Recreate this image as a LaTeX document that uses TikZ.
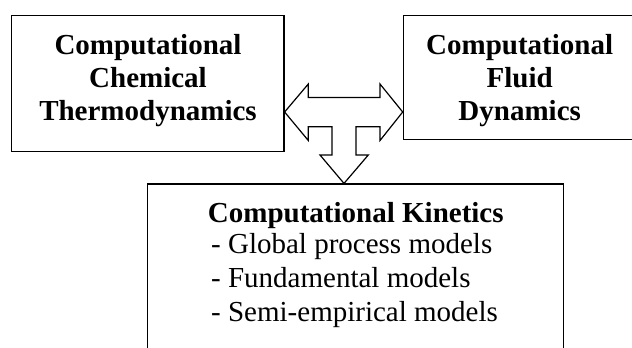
\documentclass[tikz,border=0pt]{standalone}
\usepackage{fontspec}
\setmainfont{Liberation Serif}
\begin{document}
\begin{tikzpicture}[x=1pt,y=-1pt,
  box/.style={draw,line width=1.2pt,inner sep=0pt,rectangle},
  ttl/.style={font=\fontsize{29}{33.2}\selectfont\bfseries,align=center,inner sep=0pt,anchor=base},
  lst/.style={font=\fontsize{29}{34.2}\selectfont,align=left,inner sep=0pt,anchor=base west},
  bigarrow/.style={draw,line width=1.2pt,fill=white,line join=miter}]
\useasboundingbox (0,0) rectangle (632,348);
% boxes
\node[box,minimum width=272.3pt,minimum height=135.8pt] (ct) at (147.85,83.6) {};
\node[box,minimum width=232.7pt,minimum height=123.8pt] (cfd) at (519.65,77.6) {};
\node[box,minimum width=416pt,minimum height=190pt] (ck) at (355.3,279) {};
% texts (base anchor = last line baseline)
\node[ttl] (ctt) at (148,120.7) {Computational\\Chemical\\Thermodynamics};
\node[ttl] (cfdt) at (519.7,120.7) {Computational\\Fluid\\Dynamics};
\node[ttl] (ckt) at (355.8,222.3) {Computational Kinetics};
\node[lst] (ckl) at (211,321.7) {- Global process models\\- Fundamental models\\- Semi-empirical models};
% arrow
\coordinate (lt) at (ct.east |- 0,112);
\coordinate (rt) at (cfd.west |- 0,112);
\coordinate (dt) at (344,0 |- ck.north);
\draw[bigarrow] (lt) -- (308.3,84) -- (308.3,97.5) -- (380,97.5) -- (380,84) -- (rt)
  -- (380,140.5) -- (380,126.7) -- (356,126.7) -- (356,155) -- (368.3,155) -- (dt)
  -- (320,155) -- (332,155) -- (332,126.7) -- (308.3,126.7) -- (308.3,140.5) -- cycle;
\end{tikzpicture}
\end{document}
